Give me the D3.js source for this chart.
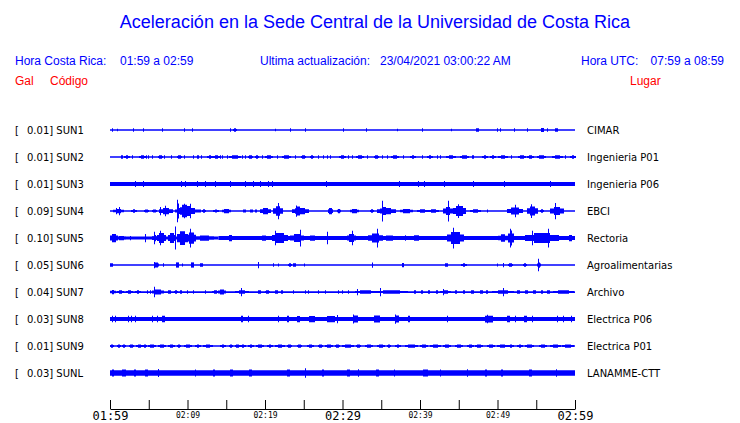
<!DOCTYPE html>
<html><head><meta charset="utf-8">
<script src="https://cdn.jsdelivr.net/npm/d3@7"></script>
<style>body{margin:0;background:#fff}svg{display:block}</style>
</head><body>
<svg id="chart" width="740" height="423"></svg>
<script>
// ---------- data ----------
const codes  = ["SUN1","SUN2","SUN3","SUN4","SUN5","SUN6","SUN7","SUN8","SUN9","SUNL"];
const places = ["CIMAR","Ingenieria P01","Ingenieria P06","EBCI","Rectoria","Agroalimentarias","Archivo","Electrica P06","Electrica P01","LANAMME-CTT"];
const peakGal = [0.01,0.01,0.01,0.09,0.10,0.05,0.04,0.03,0.01,0.03];
// background noise half-amplitude per trace: [start minute, end minute, Gal]
const noiseGal = [
  [[0,60,0.006]],[[0,60,0.006]],[[0,60,0.016]],[[0,60,0.006]],
  [[0,14,0.012],[14,60,0.016]],[[0,60,0.006]],[[0,60,0.007]],
  [[0,60,0.016]],[[0,60,0.006]],[[0,60,0.022]]
];
const tickLabels = ["01:59","02:09","02:19","02:29","02:39","02:49","02:59"];
const titleText = "Aceleración en la Sede Central de la Universidad de Costa Rica";
const localRange = "01:59 a 02:59";
const utcRange = "07:59 a 08:59";
const lastUpdate = "23/04/2021 03:00:22 AM";

// events: [start minute, end minute (after 01:59), half-amplitude Gal]
const sun1 = [[0.3,0.3,0.014],[0.9,0.9,0.010],[3.0,3.0,0.014],[4.3,4.3,0.014],[6.7,6.7,0.014],[9.5,9.5,0.014],[10.6,10.6,0.014],[15.5,15.5,0.014],[15.9,16.2,0.014],[21.3,21.3,0.010],[23.2,23.2,0.014],[25.2,25.2,0.014],[30.1,30.1,0.014],[33.0,33.0,0.014],[37.0,37.0,0.010],[40.3,40.3,0.014],[44.0,44.0,0.010],[47.2,47.5,0.014],[49.9,49.9,0.014],[50.3,50.3,0.014],[52.1,52.1,0.014],[53.8,53.8,0.014],[55.6,55.9,0.016],[56.4,56.4,0.014],[57.4,57.7,0.014]];
const sun2 = [[1.4,1.5,0.014],[1.8,2.4,0.014],[2.8,2.8,0.014],[3.8,4.5,0.014],[4.7,4.7,0.014],[4.9,4.9,0.014],[5.4,5.4,0.014],[6.2,6.7,0.014],[7.0,7.0,0.014],[7.9,7.9,0.014],[8.6,9.2,0.014],[9.5,9.5,0.014],[10.7,10.7,0.014],[11.2,11.4,0.014],[11.8,11.8,0.014],[12.5,13.1,0.014],[13.3,14.0,0.014],[14.2,14.2,0.014],[14.4,14.4,0.014],[15.1,15.1,0.014],[15.4,16.8,0.014],[17.0,17.0,0.014],[17.4,17.4,0.014],[17.8,18.3,0.014],[18.7,19.1,0.014],[19.6,19.6,0.014],[20.0,20.9,0.014],[21.5,21.5,0.014],[22.2,23.2,0.014],[23.9,23.9,0.014],[24.7,25.2,0.014],[25.8,26.2,0.014],[26.9,26.9,0.014],[27.5,27.5,0.014],[28.0,28.0,0.014],[28.4,28.4,0.014],[29.5,30.3,0.014],[30.7,30.7,0.014],[31.2,31.2,0.014],[31.7,32.7,0.014],[33.1,33.1,0.014],[34.0,34.6,0.014],[35.1,35.1,0.014],[35.7,35.7,0.014],[36.3,37.1,0.014],[37.8,37.8,0.014],[38.7,39.4,0.014],[40.2,40.2,0.014],[40.9,41.5,0.014],[42.2,42.2,0.014],[42.6,42.6,0.014],[43.4,44.5,0.014],[45.1,46.2,0.014],[46.7,46.7,0.014],[46.9,46.9,0.014],[48.0,48.6,0.014],[49.0,49.7,0.014],[50.1,51.2,0.014],[51.8,51.8,0.014],[52.7,53.5,0.014],[53.8,54.6,0.014],[55.1,56.1,0.014],[57.0,58.3,0.014],[58.7,58.7,0.014],[59.4,60.0,0.014]];
const sun3 = [[3.2,3.2,0.024],[4.2,4.2,0.024],[9.2,9.2,0.024],[9.7,9.7,0.024],[11.2,11.2,0.024],[12.2,12.2,0.024],[13.5,13.5,0.024],[15.5,15.5,0.024],[17.4,17.4,0.024],[18.5,18.5,0.024],[19.4,19.4,0.024],[20.4,20.4,0.024],[20.9,20.9,0.024],[27.9,27.9,0.024],[37.3,37.3,0.024],[39.8,39.8,0.024],[40.5,40.5,0.024],[43.1,43.1,0.024],[46.9,46.9,0.024],[50.8,50.8,0.024],[56.8,56.8,0.024]];
const sun4 = [[0.4,1.7,0.017],[0.8,0.8,0.025],[1.2,1.2,0.033],[2.7,3.4,0.014],[4.4,4.9,0.012],[5.4,5.9,0.012],[6.3,8.0,0.025],[6.5,6.5,0.033],[7.1,7.1,0.042],[8.4,11.6,0.020],[8.7,10.8,0.040],[9.0,10.0,0.050],[8.6,8.6,0.090],[8.8,8.8,0.060],[9.5,9.5,0.058],[10.3,10.3,0.058],[11.9,12.3,0.014],[13.3,13.9,0.012],[14.5,15.5,0.017],[17.2,17.4,0.012],[18.0,18.3,0.012],[18.7,18.9,0.012],[19.4,20.6,0.025],[21.0,22.2,0.038],[21.7,21.7,0.065],[23.5,25.5,0.025],[23.9,24.6,0.036],[24.0,24.0,0.045],[28.1,28.6,0.025],[29.3,29.7,0.017],[31.0,32.0,0.017],[33.5,33.9,0.014],[34.5,36.8,0.025],[34.8,35.8,0.032],[35.1,35.1,0.083],[37.4,39.0,0.017],[39.6,40.9,0.014],[41.0,42.3,0.014],[43.0,44.1,0.032],[43.6,43.6,0.083],[44.3,45.8,0.040],[44.9,44.9,0.055],[46.5,47.7,0.014],[48.6,48.6,0.012],[51.2,53.2,0.028],[52.3,52.3,0.050],[53.8,55.1,0.036],[54.3,54.3,0.055],[55.5,55.9,0.014],[56.8,58.5,0.032],[57.4,57.4,0.065]];
const sun5 = [[0.0,0.9,0.033],[0.9,1.9,0.017],[2.6,2.6,0.017],[4.5,4.5,0.033],[5.4,6.1,0.025],[5.7,5.7,0.050],[6.1,7.1,0.040],[6.5,6.5,0.058],[7.5,8.4,0.040],[8.4,8.4,0.092],[8.6,9.9,0.055],[9.9,11.0,0.045],[10.3,10.3,0.075],[11.0,13.3,0.021],[15.1,15.9,0.025],[19.4,20.3,0.021],[20.9,22.8,0.040],[21.3,21.3,0.058],[23.2,24.9,0.032],[24.5,24.5,0.067],[25.4,26.7,0.021],[28.0,28.0,0.050],[30.6,31.6,0.032],[31.2,31.2,0.058],[33.3,35.1,0.036],[34.5,34.5,0.075],[35.2,36.8,0.021],[38.1,38.1,0.022],[39.0,40.0,0.022],[43.5,45.5,0.048],[44.3,44.3,0.083],[50.1,51.2,0.030],[51.4,52.0,0.060],[51.6,51.6,0.075],[53.5,57.8,0.040],[54.5,54.5,0.058],[56.5,56.5,0.075],[59.0,59.7,0.025]];
const sun6 = [[0.0,0.3,0.014],[5.7,6.2,0.020],[5.7,5.7,0.025],[6.8,6.8,0.014],[8.5,8.8,0.021],[9.3,9.3,0.012],[10.5,10.7,0.021],[11.6,11.9,0.014],[19.1,19.1,0.025],[21.0,21.0,0.014],[21.7,21.7,0.012],[23.0,23.4,0.014],[23.6,23.9,0.014],[25.0,25.0,0.012],[33.8,33.8,0.021],[37.7,37.8,0.017],[43.2,43.5,0.014],[45.3,45.9,0.014],[49.9,49.9,0.012],[50.7,50.7,0.017],[51.4,51.9,0.014],[53.3,53.7,0.014],[55.1,55.5,0.021],[55.2,55.2,0.050]];
const sun7 = [[0.0,0.6,0.017],[0.9,1.7,0.014],[2.0,2.9,0.014],[3.2,3.9,0.014],[4.8,4.8,0.014],[5.2,5.2,0.014],[5.4,6.8,0.020],[5.7,5.7,0.042],[7.5,7.7,0.014],[8.3,8.6,0.014],[9.0,9.2,0.014],[9.9,9.9,0.014],[10.7,10.7,0.014],[12.3,12.3,0.014],[13.2,13.9,0.014],[13.9,14.8,0.020],[16.1,17.8,0.014],[16.9,16.9,0.033],[19.1,19.4,0.014],[20.0,20.5,0.014],[21.3,21.5,0.014],[22.0,22.2,0.014],[23.6,23.6,0.014],[25.2,25.2,0.014],[25.5,25.5,0.014],[26.8,26.8,0.014],[27.7,27.7,0.014],[29.4,29.4,0.014],[29.9,29.9,0.014],[30.7,30.7,0.014],[31.6,34.2,0.014],[31.9,31.9,0.025],[34.2,38.3,0.014],[34.8,34.8,0.033],[39.2,39.4,0.014],[40.1,40.3,0.014],[41.0,41.2,0.014],[42.0,42.2,0.014],[42.6,43.9,0.014],[43.0,43.0,0.025],[44.5,44.7,0.014],[45.5,45.7,0.014],[46.6,46.8,0.014],[47.7,48.0,0.014],[48.5,48.6,0.014],[49.3,52.0,0.014],[50.7,50.7,0.033],[52.5,52.8,0.014],[53.6,53.8,0.014],[54.6,54.9,0.014],[55.6,55.8,0.014],[56.4,56.7,0.014],[57.2,59.8,0.014]];
const sun8 = [[0.2,0.2,0.026],[0.6,0.6,0.026],[2.3,2.3,0.026],[2.7,2.7,0.026],[3.2,3.2,0.026],[5.4,5.4,0.026],[6.0,6.0,0.026],[6.7,7.0,0.026],[16.8,17.2,0.026],[17.8,17.8,0.026],[21.7,21.7,0.026],[22.8,23.0,0.026],[23.9,24.7,0.025],[25.2,26.9,0.025],[27.3,29.5,0.025],[29.3,29.3,0.033],[31.0,32.3,0.028],[31.4,31.4,0.036],[33.5,35.2,0.028],[36.5,37.4,0.028],[36.8,36.8,0.037],[38.3,38.7,0.026],[43.5,43.5,0.026],[47.7,49.9,0.027],[48.7,48.7,0.034],[51.2,51.5,0.026],[52.3,52.3,0.026],[53.3,53.8,0.026],[54.4,54.4,0.026],[57.7,57.7,0.026],[58.5,58.5,0.026],[59.5,59.5,0.026]];
const sun9 = [[0.0,0.4,0.013],[0.9,1.3,0.013],[1.5,1.9,0.013],[2.5,3.0,0.013],[3.4,4.1,0.013],[4.3,4.7,0.013],[4.9,5.8,0.013],[6.2,7.1,0.013],[7.5,8.2,0.013],[8.6,9.0,0.013],[9.5,10.5,0.013],[11.0,11.6,0.013],[12.0,13.1,0.013],[14.2,14.8,0.013],[15.3,15.7,0.013],[16.1,16.6,0.013],[16.8,17.4,0.013],[17.8,18.5,0.013],[18.9,19.8,0.013],[20.2,20.9,0.013],[21.3,22.4,0.013],[22.8,23.4,0.013],[24.1,24.7,0.013],[25.4,26.2,0.013],[26.9,27.3,0.013],[27.7,28.6,0.013],[29.0,29.5,0.013],[29.9,31.4,0.013],[31.8,32.3,0.013],[32.9,33.8,0.013],[34.4,35.3,0.013],[35.7,36.1,0.013],[36.8,37.4,0.013],[38.1,39.6,0.013],[40.0,40.9,0.013],[41.3,42.6,0.013],[43.0,43.9,0.013],[44.5,45.4,0.013],[46.0,46.9,0.013],[47.1,48.0,0.013],[48.6,49.5,0.013],[49.9,51.2,0.013],[51.4,52.0,0.013],[52.5,53.1,0.013],[53.5,54.6,0.013],[55.3,56.3,0.013],[56.8,58.1,0.013],[58.3,59.8,0.013]];
const sunL = [[0.0,0.6,0.028],[1.3,2.2,0.028],[3.0,3.3,0.028],[4.5,4.8,0.028],[6.2,6.2,0.032],[11.0,11.0,0.028],[13.1,13.5,0.028],[15.5,15.7,0.028],[17.8,18.3,0.028],[22.6,23.4,0.028],[25.2,25.2,0.038],[27.1,27.7,0.028],[30.5,31.0,0.028],[32.0,32.0,0.030],[34.0,34.8,0.028],[36.6,36.6,0.028],[40.0,41.3,0.028],[42.6,42.6,0.028],[46.0,46.0,0.030],[48.2,48.6,0.028],[50.3,50.7,0.028],[53.8,54.6,0.028],[57.6,57.6,0.030]];
const events = [sun1,sun2,sun3,sun4,sun5,sun6,sun7,sun8,sun9,sunL];

// ---------- drawing ----------
const BLUE = "#0000ff", RED = "#ff0000";
const svg = d3.select("#chart");
const x = d3.scaleLinear().domain([0,60]).range([110,575]);
const row = d3.scalePoint().domain(codes).range([130,373]);
const amp = d3.scaleLinear().domain([0,0.1]).range([0,12.5]);
const fmt = d3.format(".2f");

svg.append("text").attr("x",375).attr("y",28).attr("text-anchor","middle")
  .attr("font-family","Liberation Sans, Arial, sans-serif").attr("font-size",18).attr("fill",BLUE).text(titleText);

const hdr = svg.append("g").attr("font-family","Liberation Sans, Arial, sans-serif").attr("font-size",12);
hdr.append("text").attr("x",15).attr("y",65).attr("fill",BLUE).text("Hora Costa Rica:");
hdr.append("text").attr("x",120).attr("y",65).attr("fill",BLUE).text(localRange);
hdr.append("text").attr("x",260).attr("y",65).attr("fill",BLUE).text("Ultima actualización:");
hdr.append("text").attr("x",380).attr("y",65).attr("fill",BLUE).text(lastUpdate);
hdr.append("text").attr("x",581).attr("y",65).attr("fill",BLUE).text("Hora UTC:");
hdr.append("text").attr("x",724).attr("y",65).attr("fill",BLUE).attr("text-anchor","end").text(utcRange);
hdr.append("text").attr("x",15).attr("y",85).attr("fill",RED).text("Gal");
hdr.append("text").attr("x",50).attr("y",85).attr("fill",RED).text("Código");
hdr.append("text").attr("x",630).attr("y",85).attr("fill",RED).text("Lugar");

// event envelope (stepped): flat for short blips, stepped taper for longer bursts
function envelope(d){
  const x0 = Math.round(x(d[0])), x1 = Math.max(x0+1, Math.round(x(d[1]))+1), w = x1-x0;
  if (w <= 3) return [[x0,d[2]],[x1,d[2]]];
  const q = Math.max(1, Math.round(w*0.25));
  return [[x0,d[2]*0.6],[x0+q,d[2]],[x1-q,d[2]*0.6],[x1,d[2]*0.6]];
}

const rows = svg.append("g").selectAll("g").data(codes).join("g");
rows.each(function(code,i){
  const g = d3.select(this), cy = row(code);
  const area = d3.area().curve(d3.curveStepAfter).x(p=>p[0]).y0(p=>cy+amp(p[1])).y1(p=>cy-amp(p[1]));
  g.append("text").attr("x",15).attr("y",cy+3.7).attr("font-family","DejaVu Sans").attr("font-size",10).text("[");
  g.append("text").attr("x",27).attr("y",cy+3.7).attr("font-family","DejaVu Sans").attr("font-size",10).text(fmt(peakGal[i])+"] "+code);
  g.append("text").attr("x",587).attr("y",cy+3.7).attr("font-family","DejaVu Sans").attr("font-size",10).text(places[i]);
  const tr = g.append("g").attr("fill",BLUE);
  tr.selectAll("path.noise").data(noiseGal[i]).join("path").attr("class","noise")
    .attr("d",d=>area([[x(d[0]),d[2]],[x(d[1]),d[2]]]));
  tr.selectAll("path.ev").data(events[i]).join("path").attr("class","ev")
    .attr("d",d=>area(envelope(d)));
});

const axis = d3.axisBottom(x).tickValues(d3.range(0,61,5)).tickSizeInner(-9).tickSizeOuter(0)
  .tickFormat(d => d%10===0 ? tickLabels[d/10] : "");
const ag = svg.append("g").attr("transform","translate(0,409)").call(axis);
ag.select(".domain").attr("stroke","#000");
ag.selectAll(".tick line").attr("stroke","#000");
ag.selectAll(".tick text").attr("fill","#000").attr("font-family","DejaVu Sans Mono")
  .each(function(d){ const big = d%30===0; d3.select(this).attr("font-size",big?12:8).attr("dy",null).attr("y",big?11:8.5); });
</script>
</body></html>
